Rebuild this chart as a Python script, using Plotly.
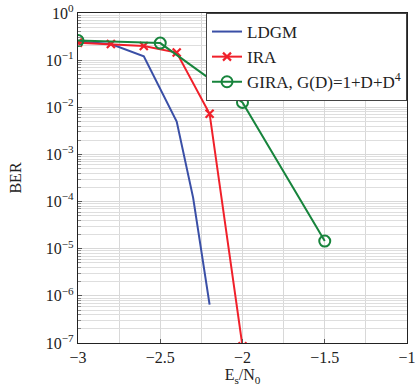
import plotly.graph_objects as go

# Data
ldgm_x = [-3.0, -2.8, -2.6, -2.4, -2.3, -2.2]
ldgm_y = [0.25, 0.22, 0.12, 5.0e-3, 1.2e-4, 6.5e-7]

ira_x = [-3.0, -2.8, -2.6, -2.4, -2.2, -2.0]
ira_y = [0.235, 0.22, 0.20, 0.145, 7.3e-3, 8.5e-8]

gira_x = [-3.0, -2.5, -2.0, -1.5]
gira_y = [0.26, 0.23, 0.0127, 1.45e-5]

series_names = ["LDGM", "IRA", "GIRA, G(D)=1+D+D<sup>4</sup>"]

y_major = [1e-7, 1e-6, 1e-5, 1e-4, 1e-3, 1e-2, 1e-1, 1e0]
y_major_text = ["10<sup>−7</sup>", "10<sup>−6</sup>", "10<sup>−5</sup>", "10<sup>−4</sup>",
                "10<sup>−3</sup>", "10<sup>−2</sup>", "10<sup>−1</sup>", "10<sup>0</sup>"]
y_minor = [m * 10 ** e for e in range(-7, 0) for m in range(2, 10)]

x_ticks = [-3, -2.5, -2, -1.5, -1]
x_ticks_text = ["−3", "−2.5", "−2", "−1.5", "−1"]

BLUE = "#3a4fa6"
RED = "#f0202a"
GREEN = "#17843c"
FONT = "Liberation Serif"

fig = go.Figure()
fig.add_trace(go.Scatter(x=ldgm_x, y=ldgm_y, mode="lines", name=series_names[0],
                         line=dict(color=BLUE, width=2)))
fig.add_trace(go.Scatter(x=ira_x, y=ira_y, mode="lines+markers", name=series_names[1],
                         line=dict(color=RED, width=2),
                         marker=dict(symbol="x-thin", size=8, line=dict(color=RED, width=2.2))))
fig.add_trace(go.Scatter(x=gira_x, y=gira_y, mode="lines+markers", name=series_names[2],
                         line=dict(color=GREEN, width=2),
                         marker=dict(symbol="circle-open", size=11, color=GREEN,
                                     line=dict(color=GREEN, width=2))))

fig.update_layout(
    width=417, height=391,
    margin=dict(l=78, r=10, t=13, b=48),
    paper_bgcolor="white", plot_bgcolor="white",
    font=dict(family=FONT, size=16, color="#222"),
    showlegend=True,
    legend=dict(x=1.0, y=1.0, xanchor="right", yanchor="top",
                bgcolor="white", bordercolor="#444", borderwidth=1,
                font=dict(family=FONT, size=17), tracegroupgap=0,
                itemwidth=30),
    xaxis=dict(range=[-3, -1], tickvals=x_ticks, ticktext=x_ticks_text,
               automargin=False, ticklabeloverflow="allow",
               showline=True, linecolor="#222", linewidth=1.2, mirror=True,
               ticks="inside", ticklen=4, tickcolor="#555",
               showgrid=True, gridcolor="#d8d8d8", gridwidth=1,
               minor=dict(dtick=0.25, showgrid=True, gridcolor="#d8d8d8", ticks=""),
               zeroline=False, tickfont=dict(family=FONT, size=16),
               title=dict(text="E<sub>s</sub>/N<sub>0</sub>", font=dict(family=FONT, size=16), standoff=0)),
    yaxis=dict(type="log", range=[-7, 0], tickvals=y_major, ticktext=y_major_text,
               automargin=False, ticklabeloverflow="allow",
               showline=True, linecolor="#222", linewidth=1.2, mirror=True,
               ticks="inside", ticklen=4, tickcolor="#555",
               showgrid=True, gridcolor="#d8d8d8", gridwidth=1,
               minor=dict(tickvals=y_minor, showgrid=True, gridcolor="#dedede",
                          ticks="inside", ticklen=3, tickcolor="#888"),
               zeroline=False, tickfont=dict(family=FONT, size=16),
               title=dict(text="BER", font=dict(family=FONT, size=16), standoff=20)),
)

fig.write_html("out.html", config={"displayModeBar": False},
               post_script="document.body.style.margin='0';document.body.style.padding='0';")
